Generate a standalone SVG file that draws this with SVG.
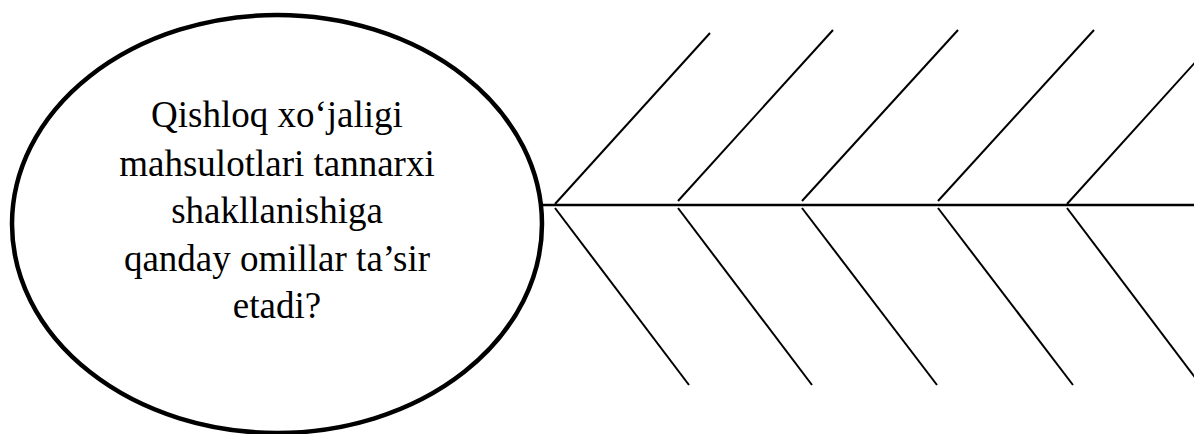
<svg xmlns="http://www.w3.org/2000/svg" width="1194" height="434" viewBox="0 0 1194 434">
<style>
.bone{stroke:#000;stroke-width:2;fill:none}
.spine{stroke:#000;stroke-width:2.5;fill:none}
.lbl{font-family:"Liberation Serif","Times New Roman",serif;font-size:37px;fill:#000;text-anchor:middle}
</style>
<rect width="1194" height="434" fill="#fff"/>
<g id="head">
<ellipse cx="277" cy="224" rx="265" ry="209" fill="#fff" stroke="#000" stroke-width="4.5"/>
<text class="lbl" x="277" y="127">Qishloq xo‘jaligi</text>
<text class="lbl" x="277" y="176">mahsulotlari tannarxi</text>
<text class="lbl" x="277" y="223">shakllanishiga</text>
<text class="lbl" x="277" y="271">qanday omillar ta’sir</text>
<text class="lbl" x="277" y="318">etadi?</text>
</g>
<g id="connectors">
<line class="spine" x1="542" y1="205" x2="1194" y2="205"/>
<line class="bone" x1="555" y1="204" x2="710" y2="33"/>
<line class="bone" x1="678" y1="201" x2="833" y2="30"/>
<line class="bone" x1="802" y1="201" x2="958" y2="30"/>
<line class="bone" x1="938" y1="201" x2="1094" y2="30"/>
<line class="bone" x1="1067" y1="204" x2="1200" y2="57"/>
<line class="bone" x1="555" y1="208" x2="689" y2="385"/>
<line class="bone" x1="678" y1="208" x2="812" y2="385"/>
<line class="bone" x1="802" y1="208" x2="937" y2="385"/>
<line class="bone" x1="938" y1="208" x2="1073" y2="385"/>
<line class="bone" x1="1067" y1="208" x2="1200" y2="384"/>
</g>
</svg>
